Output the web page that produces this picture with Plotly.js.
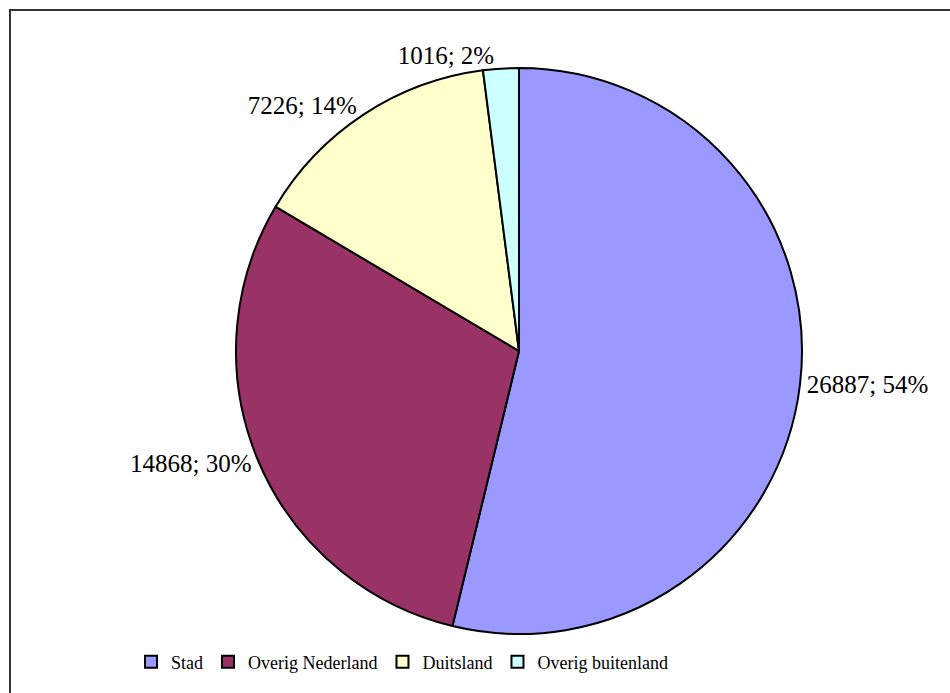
<!DOCTYPE html>
<html>
<head>
<meta charset="utf-8">
<script src="https://cdn.plot.ly/plotly-3.0.1.min.js"></script>
<style>
html,body{margin:0;padding:0;background:#fff;}
#chart{width:950px;height:693px;}
</style>
</head>
<body>
<div id="chart"></div>
<script>
const categories = ["Stad", "Overig Nederland", "Duitsland", "Overig buitenland"];
const values = [26887, 14868, 7226, 1016];
const colors = ["#9999FF", "#993366", "#FFFFCC", "#CCFFFF"];

const W = 950, H = 693;
const cx = 519, cy = 351, r = 283;

const trace = {
  type: "pie",
  labels: categories,
  values: values,
  sort: false,
  direction: "clockwise",
  rotation: 0,
  marker: {colors: colors, line: {color: "#000000", width: 2}},
  textposition: "outside",
  texttemplate: "%{value:d}; %{percent:.0%}",
  textfont: {family: "Liberation Serif, serif", size: 25, color: "#000000"},
  hoverinfo: "none",
  domain: {x: [(cx - r) / W, (cx + r) / W], y: [1 - (cy + r) / H, 1 - (cy - r) / H]}
};

const layout = {
  width: W, height: H,
  margin: {l: 0, r: 0, t: 0, b: 0},
  paper_bgcolor: "#ffffff",
  showlegend: true,
  legend: {
    orientation: "h",
    x: 402 / W, xanchor: "center",
    y: 1 - 662 / H, yanchor: "middle",
    font: {family: "Liberation Serif, serif", size: 18, color: "#000000"},
    itemwidth: 30,
    traceorder: "normal"
  },
  shapes: [{
    type: "rect", xref: "paper", yref: "paper",
    x0: 10 / W, x1: 1.05, y0: -0.05, y1: 1 - 10 / H,
    line: {color: "#333333", width: 2}, fillcolor: "rgba(0,0,0,0)"
  }]
};

Plotly.newPlot("chart", [trace], layout, {staticPlot: true});
</script>
</body>
</html>
